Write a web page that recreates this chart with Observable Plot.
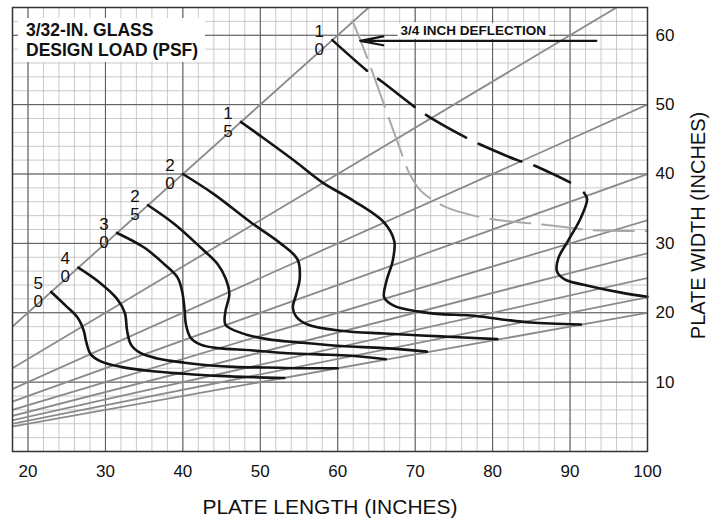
<!DOCTYPE html>
<html><head><meta charset="utf-8">
<script src="https://cdn.jsdelivr.net/npm/d3@7"></script>
<script src="https://cdn.jsdelivr.net/npm/@observablehq/plot@0.6"></script>
<style>
body{margin:0;background:#fff;}
#wrap{position:relative;width:712px;height:521px;}
#title{position:absolute;left:18px;top:18px;width:187px;height:44px;background:#fff;font:bold 17.5px "Liberation Sans",Arial,sans-serif;line-height:20px;padding:2px 0 0 8px;box-sizing:border-box;color:#111;white-space:nowrap;}
</style></head><body>
<div id="wrap"><div id="chart"></div><div id="title">3/32-IN. GLASS<br>DESIGN LOAD (PSF)</div></div>
<script>
// ---- data ----
const xTicks = [20, 30, 40, 50, 60, 70, 80, 90, 100];
const yTicks = [10, 20, 30, 40, 50, 60];
const xMinor = d3.range(18, 101, 2);
const yMinor = d3.range(0, 65, 2);
// plate aspect-ratio guide lines (length / width)
const aspectRatios = [1, 1.5, 2, 2.5, 3, 3.5, 4, 4.5, 5];

const loads = ["10", "15", "20", "25", "30", "40", "50"];

const load10Dashed = [[59.3,59.3],[64.1,54.6],[65.6,53.4],[70.5,49.2],[72.0,48.1],[77.0,45.0],[78.7,44.1],[83.2,42.0],[85.2,41.3],[90.0,38.8]];
const load10Solid = [[91.8,37.3],[92.2,36.4],[91.4,33.7],[89.7,30.3],[88.5,27.9],[88.3,26.0],[89.3,24.8],[92.3,23.9],[96.6,22.9],[100,22.3]];
const load15 = [[47.5,47.5],[50.0,45.5],[54.4,41.9],[58.0,38.8],[62.1,36.1],[66.0,33.0],[67.3,30.3],[67.1,27.5],[66.3,24.6],[66.0,22.2],[67.3,21.0],[70.3,20.2],[73.3,19.8],[77.2,19.6],[81.5,19.0],[84.9,18.6],[91.4,18.3]];
const load20 = [[40,40],[44.0,37.1],[48.8,33.0],[52.6,30.0],[54.8,27.7],[55.1,25.0],[54.6,22.5],[54.2,20.8],[54.6,19.5],[56.1,18.3],[60.4,17.4],[66,17.0],[73.3,16.6],[80.6,16.2]];
const load25 = [[35.5,35.5],[38.9,32.8],[42.3,29.4],[44.5,27.0],[45.5,25.0],[46.0,22.7],[45.5,20.2],[45.5,18.3],[47.5,17.1],[50.9,16.2],[55.2,15.7],[60.4,15.2],[66,14.9],[71.5,14.4]];
const load30 = [[31.5,31.5],[35.0,29.4],[37.6,27.0],[39.3,25.1],[39.9,23.1],[40.2,20.7],[40.4,18.3],[41.0,16.4],[42.3,15.4],[44.5,14.9],[48.8,14.6],[53.1,14.2],[57.4,14.0],[61.7,13.8],[66.2,13.3]];
const load40 = [[26.5,26.5],[29.2,24.4],[31.5,22.0],[32.5,20.0],[32.8,17.4],[33.3,15.4],[34.5,14.2],[36.7,13.4],[40.2,12.8],[43.6,12.4],[46.6,12.2],[50.9,12.1],[55.2,12.0],[60,12.0]];
const load50 = [[23,23],[24.9,21.0],[26.4,19.3],[27.2,17.4],[27.5,15.9],[28.1,14.0],[29.4,13.0],[32.0,12.2],[35.8,11.6],[40.2,11.2],[44.5,10.9],[49.2,10.7],[53.1,10.6]];

// 3/4 inch deflection limit curve
const deflection = [[61.9,62.1],[63.85,56.6],[66.2,49.3],[68.6,41.9],[69.2,40.2],[70.7,37.6],[73.3,35.6],[75.0,34.8],[79.8,33.5],[86.7,32.7],[93.1,31.9],[100,31.8]];

const deflLabel = [{x: 77.5, y: 60.6, text: "3/4 INCH DEFLECTION"}];
const deflArrow = [{x1: 93.4, x2: 62.9, y: 59.2}];

const curveStarts = [load10Dashed, load15, load20, load25, load30, load40, load50].map(c => c[0]);
const labelData = loads.map((t, i) => ({x: curveStarts[i][0], y: curveStarts[i][1], text: t.split("").join("\n")}));

const black = "#141414";
const curveStyle = {stroke: black, strokeWidth: 2.6, curve: "catmull-rom"};

const chart = Plot.plot({
  width: 712, height: 521,
  marginLeft: 12, marginRight: 65, marginTop: 7, marginBottom: 70,
  style: {fontFamily: "'Liberation Sans', Arial, sans-serif", fontSize: "17px", color: "#111", background: "#fff"},
  x: {domain: [18, 100], ticks: xTicks, tickSize: 0, tickPadding: 13, label: null},
  y: {domain: [0, 64], ticks: yTicks, tickSize: 0, tickPadding: 8, label: null, axis: "right"},
  marks: [
    Plot.ruleX(xMinor, {stroke: "#bdbdbd", strokeWidth: 0.8}),
    Plot.ruleY(yMinor, {stroke: "#bdbdbd", strokeWidth: 0.8}),
    Plot.ruleX(xTicks, {stroke: "#555", strokeWidth: 1}),
    Plot.ruleY(yTicks, {stroke: "#555", strokeWidth: 1}),
    Plot.link(aspectRatios, {x1: 0, y1: 0, x2: 100, y2: r => 100 / r, stroke: "#8a8a8a", strokeWidth: 1.8, clip: true}),
    Plot.line(deflection, {stroke: "#a8a8a8", strokeWidth: 2, strokeDasharray: "40,12", curve: "catmull-rom"}),
    Plot.line(load10Dashed, {...curveStyle, strokeDasharray: "46,14"}),
    Plot.line(load10Solid, curveStyle),
    Plot.line(load15, curveStyle),
    Plot.line(load20, curveStyle),
    Plot.line(load25, curveStyle),
    Plot.line(load30, curveStyle),
    Plot.line(load40, curveStyle),
    Plot.line(load50, curveStyle),
    Plot.text(labelData, {x: "x", y: "y", text: "text", dx: -13, fontSize: 17, lineHeight: 1.05, textAnchor: "middle", lineAnchor: "middle", fill: "#111"}),
    Plot.text(deflLabel, {x: "x", y: "y", text: "text", fontSize: 13.5, fontWeight: "bold", fill: "#111", stroke: "white", strokeWidth: 8, paintOrder: "stroke", lineAnchor: "middle"}),
    Plot.arrow(deflArrow, {x1: "x1", y1: "y", x2: "x2", y2: "y", stroke: black, strokeWidth: 2.2, headLength: 16, headAngle: 22}),
    Plot.frame({stroke: "#333", strokeWidth: 1.5}),
    Plot.text(["PLATE LENGTH (INCHES)"], {text: d => d, frameAnchor: "bottom", dy: 56, dx: 0, fontSize: 21, textAnchor: "middle", lineAnchor: "middle", fill: "#111"}),
    Plot.text(["PLATE WIDTH (INCHES)"], {text: d => d, frameAnchor: "right", dx: 51, dy: -4, rotate: -90, fontSize: 20, textAnchor: "middle", lineAnchor: "middle", fill: "#111"})
  ]
});
document.getElementById("chart").appendChild(chart);
</script>
</body></html>
